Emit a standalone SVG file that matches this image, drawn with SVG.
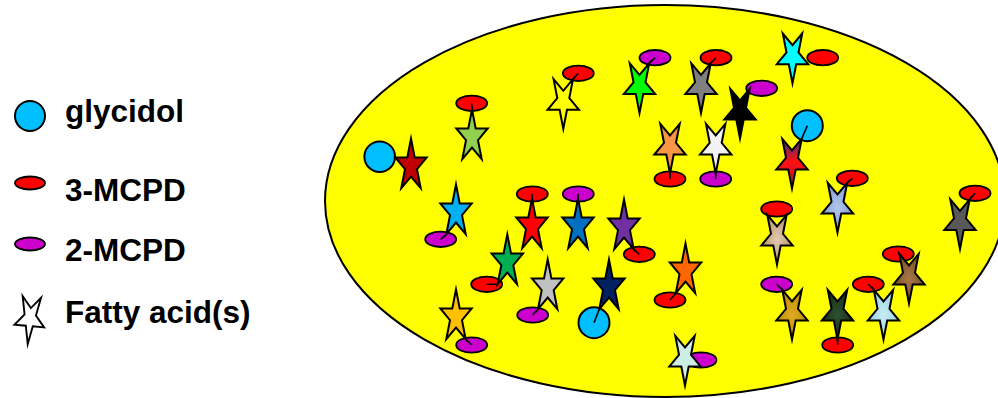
<svg xmlns="http://www.w3.org/2000/svg" xmlns:xlink="http://www.w3.org/1999/xlink" width="998" height="398" viewBox="0 0 998 398">
<style>
.lbl{font-family:"Liberation Sans",Arial,sans-serif;font-weight:bold;font-size:31.5px;fill:#000}
.st{stroke:#000;stroke-width:2;stroke-miterlimit:10;stroke-linejoin:miter}
.m3{fill:#FF0000;stroke:#000;stroke-width:1.8}
.m2{fill:#CC00CC;stroke:#000;stroke-width:1.8}
.gly{fill:#00BFFF;stroke:#000;stroke-width:2}
.cn{stroke:#000;stroke-width:1.6;fill:none}
</style>
<defs>
<path id="star" d="M0,-27.5 L3.7,-8.5 L15.7,-8.5 L6,3.2 L9.7,22.2 L0,10.5 L-9.7,22.2 L-6,3.2 L-15.7,-8.5 L-3.7,-8.5 Z"/>
<linearGradient id="gRN" x1="0" y1="1" x2="0" y2="0">
<stop offset="0" stop-color="#2E3A87"/>
<stop offset="0.45" stop-color="#FF1010"/>
<stop offset="0.7" stop-color="#E01020"/>
<stop offset="1" stop-color="#5A3470"/>
</linearGradient>
<radialGradient id="gLSB"><stop offset="0" stop-color="#B4C8EC"/><stop offset="1" stop-color="#7E9BD2"/></radialGradient>
<radialGradient id="gTan"><stop offset="0" stop-color="#E2CBB0"/><stop offset="1" stop-color="#B8946E"/></radialGradient>
<radialGradient id="gBr"><stop offset="0" stop-color="#A87848"/><stop offset="1" stop-color="#7A4E24"/></radialGradient>
<radialGradient id="gDG"><stop offset="0" stop-color="#2E5230"/><stop offset="1" stop-color="#182E18"/></radialGradient>
<radialGradient id="gLB"><stop offset="0" stop-color="#C8ECF2"/><stop offset="1" stop-color="#98D2E0"/></radialGradient>
<radialGradient id="gGold"><stop offset="0" stop-color="#DDAA22"/><stop offset="1" stop-color="#C08E00"/></radialGradient>
</defs>

<g id="legend">
<g id="leg-glycidol"><circle class="gly" cx="30" cy="116" r="15"/><text class="lbl" x="65" y="122">glycidol</text></g>
<g id="leg-3mcpd"><ellipse class="m3" cx="30" cy="183" rx="15" ry="6.5"/><text class="lbl" x="65" y="201">3-MCPD</text></g>
<g id="leg-2mcpd"><ellipse class="m2" cx="30" cy="244" rx="15" ry="6.5"/><text class="lbl" x="65" y="261">2-MCPD</text></g>
<g id="leg-fa"><use xlink:href="#star" class="st" fill="#FFFFFF" stroke-width="1.5" transform="translate(30,318) rotate(185) scale(0.95)"/><text class="lbl" x="65" y="323">Fatty acid(s)</text></g>
</g>

<g id="droplet"><ellipse cx="665" cy="201" rx="340" ry="196" fill="#FFFF00" stroke="#000" stroke-width="2"/></g>

<g id="molecules">
<g id="e1"><ellipse class="m3" cx="578.3" cy="73.3" rx="15.5" ry="7.7"/></g>
<g id="e2"><ellipse class="m2" cx="655" cy="57.7" rx="15.5" ry="7.7"/></g>
<g id="e3"><ellipse class="m3" cx="716" cy="57.7" rx="15.5" ry="7.7"/></g>
<g id="e4"><ellipse class="m2" cx="761.7" cy="88.3" rx="15.5" ry="7.7"/></g>
<g id="e5"><ellipse class="m3" cx="822.7" cy="57.7" rx="15.5" ry="7.7"/></g>
<g id="e6"><ellipse class="m3" cx="471.7" cy="103.3" rx="15.5" ry="7.7"/></g>
<g id="c1"><circle class="gly" cx="379.7" cy="156.7" r="15.3"/></g>
<g id="e7"><ellipse class="m3" cx="670" cy="179" rx="15.5" ry="7.7"/></g>
<g id="e8"><ellipse class="m2" cx="715.7" cy="179" rx="15.5" ry="7.7"/></g>
<g id="c2"><circle class="gly" cx="807.3" cy="125.7" r="15.5"/></g>
<g id="e9"><ellipse class="m3" cx="852.3" cy="178.3" rx="15.5" ry="7.7"/></g>
<g id="e10"><ellipse class="m3" cx="975" cy="193.3" rx="15.5" ry="7.7"/></g>
<g id="e11"><ellipse class="m3" cx="776.7" cy="209" rx="15.5" ry="7.7"/></g>
<g id="e12"><ellipse class="m3" cx="532.3" cy="194" rx="15.5" ry="7.7"/></g>
<g id="e13"><ellipse class="m2" cx="578.3" cy="194" rx="15.5" ry="7.7"/></g>
<g id="e14"><ellipse class="m2" cx="440.7" cy="239.3" rx="15.5" ry="7.7"/></g>
<g id="e15"><ellipse class="m3" cx="639.3" cy="254.3" rx="15.5" ry="7.7"/></g>
<g id="e16"><ellipse class="m3" cx="486.7" cy="284.3" rx="15.5" ry="7.7"/></g>
<g id="e17"><ellipse class="m3" cx="670" cy="300" rx="15.5" ry="7.7"/></g>
<g id="e18"><ellipse class="m2" cx="532.7" cy="315" rx="15.5" ry="7.7"/></g>
<g id="c3"><circle class="gly" cx="594" cy="322.7" r="15.5"/></g>
<g id="e19"><ellipse class="m2" cx="776.7" cy="284.3" rx="15.5" ry="7.7"/></g>
<g id="e20"><ellipse class="m3" cx="868.3" cy="284.3" rx="15.5" ry="7.7"/></g>
<g id="e21"><ellipse class="m3" cx="898.3" cy="254" rx="15.5" ry="7.7"/></g>
<g id="e22"><ellipse class="m3" cx="837.7" cy="345" rx="15.5" ry="7.7"/></g>
<g id="e23"><ellipse class="m2" cx="471.7" cy="345" rx="15.5" ry="7.7"/></g>
<g id="e24"><ellipse class="m2" cx="701" cy="360" rx="15.5" ry="7.7"/></g>
</g>

<g id="connectors" class="cn">
<line x1="573" y1="79.1" x2="578.3" y2="73.3"/>
<line x1="649.2" y1="63.3" x2="655" y2="57.7"/>
<line x1="710.7" y1="63.3" x2="716" y2="57.7"/>
<line x1="472" y1="109.5" x2="471.7" y2="103.3"/>
<line x1="670" y1="173.5" x2="670" y2="179"/>
<line x1="715.7" y1="173.5" x2="715.7" y2="179"/>
<line x1="801.7" y1="138.8" x2="807.3" y2="125.7"/>
<line x1="847.2" y1="182.8" x2="852.3" y2="178.3"/>
<line x1="969.7" y1="199.3" x2="975" y2="193.3"/>
<line x1="675.8" y1="293.2" x2="670" y2="300"/>
<line x1="782.3" y1="289.8" x2="776.7" y2="284.3"/>
<line x1="837.5" y1="339.5" x2="837.7" y2="345"/>
<line x1="873.8" y1="289.8" x2="868.3" y2="284.3"/>
<line x1="899.3" y1="253.8" x2="898.3" y2="254"/>
<line x1="446.3" y1="234.2" x2="440.7" y2="239.3"/>
<line x1="532" y1="198.5" x2="532.3" y2="194"/>
<line x1="578" y1="198.5" x2="578.3" y2="194"/>
<line x1="633.7" y1="249.2" x2="639.3" y2="254.3"/>
<line x1="497.6" y1="284.2" x2="486.7" y2="284.3"/>
<line x1="538" y1="309.2" x2="532.7" y2="315"/>
<line x1="599.3" y1="309.2" x2="594" y2="322.7"/>
<line x1="465.7" y1="339.2" x2="471.7" y2="345"/>
</g>

<g id="fatty-acids">
<g id="s1"><use xlink:href="#star" class="st" fill="#FFFF00" transform="translate(563.3,101.3) rotate(180)"/></g>
<g id="s2"><use xlink:href="#star" class="st" fill="#00FF00" transform="translate(639.5,85.5) rotate(180)"/></g>
<g id="s3"><use xlink:href="#star" class="st" fill="#808080" transform="translate(701,85.5) rotate(180)"/></g>
<g id="s4"><use xlink:href="#star" class="st" fill="#000000" transform="translate(740,111) rotate(180)"/></g>
<g id="s5"><use xlink:href="#star" class="st" fill="#00FFFF" transform="translate(792.5,55.7) rotate(180)"/></g>
<g id="s6"><use xlink:href="#star" class="st" fill="#92D050" transform="translate(472,137)"/></g>
<g id="s7"><use xlink:href="#star" class="st" fill="#C00000" transform="translate(411,166)"/></g>
<g id="s8"><use xlink:href="#star" class="st" fill="#F79646" transform="translate(670,146) rotate(180)"/></g>
<g id="s9"><use xlink:href="#star" class="st" fill="#F2F2F2" transform="translate(715.7,146) rotate(180)"/></g>
<g id="s10"><use xlink:href="#star" class="st" fill="url(#gRN)" transform="translate(792,161) rotate(180)"/></g>
<g id="s11"><use xlink:href="#star" class="st" fill="url(#gLSB)" transform="translate(837.5,205) rotate(180)"/></g>
<g id="s12"><use xlink:href="#star" class="st" fill="#595959" transform="translate(960,221.5) rotate(180)"/></g>
<g id="s13"><use xlink:href="#star" class="st" fill="url(#gTan)" transform="translate(777,237) rotate(180)"/></g>
<g id="s14"><use xlink:href="#star" class="st" fill="#FF6600" transform="translate(685.5,271)"/></g>
<g id="s15"><use xlink:href="#star" class="st" fill="#CCEEE6" transform="translate(685,358) rotate(180)"/></g>
<g id="s16"><use xlink:href="#star" class="st" fill="url(#gGold)" transform="translate(792,312) rotate(180)"/></g>
<g id="s17"><use xlink:href="#star" class="st" fill="url(#gDG)" transform="translate(837.5,312) rotate(180)"/></g>
<g id="s18"><use xlink:href="#star" class="st" fill="url(#gLB)" transform="translate(883.5,312) rotate(180)"/></g>
<g id="s19"><use xlink:href="#star" class="st" fill="url(#gBr)" transform="translate(909,276) rotate(180)"/></g>
<g id="s20"><use xlink:href="#star" class="st" fill="#00B0F0" transform="translate(456,212)"/></g>
<g id="s21"><use xlink:href="#star" class="st" fill="#FF0000" transform="translate(532,226)"/></g>
<g id="s22"><use xlink:href="#star" class="st" fill="#0070C0" transform="translate(578,226)"/></g>
<g id="s23"><use xlink:href="#star" class="st" fill="#7030A0" transform="translate(624,227)"/></g>
<g id="s24"><use xlink:href="#star" class="st" fill="#00B050" transform="translate(507.3,262)"/></g>
<g id="s25"><use xlink:href="#star" class="st" fill="#C0C0C0" transform="translate(547.7,287)"/></g>
<g id="s26"><use xlink:href="#star" class="st" fill="#002060" transform="translate(609,287)"/></g>
<g id="s27"><use xlink:href="#star" class="st" fill="#FFC000" transform="translate(456,317)"/></g>
</g>
</svg>
